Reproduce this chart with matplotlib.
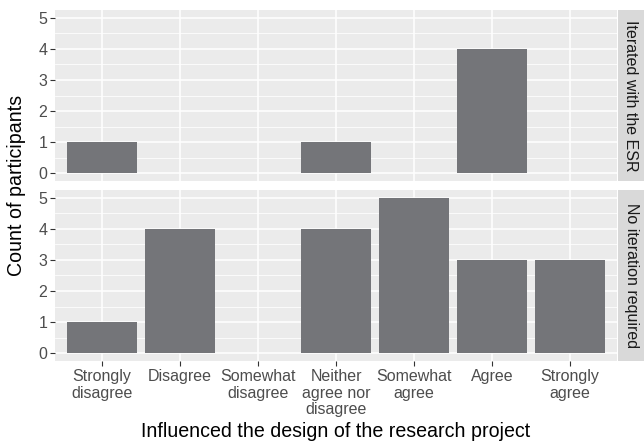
import matplotlib
matplotlib.use("Agg")
import matplotlib.pyplot as plt
import numpy as np

categories = ["Strongly\ndisagree", "Disagree", "Somewhat\ndisagree",
              "Neither\nagree nor\ndisagree", "Somewhat\nagree", "Agree",
              "Strongly\nagree"]
facets = ["Iterated with the ESR", "No iteration required"]
iterated = [1, 0, 0, 1, 0, 4, 0]
no_iteration = [1, 4, 0, 4, 5, 3, 3]
y_ticks = [0, 1, 2, 3, 4, 5]
x_title = "Influenced the design of the research project"
y_title = "Count of participants"

plt.rcParams['font.family'] = ['Liberation Sans', 'DejaVu Sans']

W, H = 644, 441
fig = plt.figure(figsize=(W / 100, H / 100), dpi=100)

bar_color = "#747579"
panel_bg = "#EBEBEB"
strip_bg = "#D9D9D9"
tick_col = "#4D4D4D"
fs_tick = 11.5
fs_title = 14.1

def fx(px):
    return px / W

def fy(py):
    return 1 - py / H

left, right = 55, 617
panels = [(10, 181), (190, 361)]
data = [iterated, no_iteration]
x = np.arange(1, len(categories) + 1)

for i, ((top, bot), vals, name) in enumerate(zip(panels, data, facets)):
    ax = fig.add_axes([fx(left), fy(bot), fx(right) - fx(left), fy(top) - fy(bot)])
    ax.set_facecolor(panel_bg)
    ax.set_xlim(0.4, len(categories) + 0.6)
    ax.set_ylim(-0.25, 5.25)
    ax.set_yticks(y_ticks)
    ax.set_yticks(np.arange(0.5, 5.0, 1.0), minor=True)
    ax.set_xticks(x)
    ax.grid(True, which='major', color='white', linewidth=1.1)
    ax.grid(True, which='minor', axis='y', color='white', linewidth=0.55)
    ax.set_axisbelow(True)
    for s in ax.spines.values():
        s.set_visible(False)
    ax.bar(x, vals, width=0.9, color=bar_color, zorder=3)
    ax.tick_params(axis='both', which='major', length=3.5, width=0.8,
                   color='#333333', labelcolor=tick_col, labelsize=fs_tick, pad=2)
    ax.tick_params(axis='y', which='minor', length=0)
    if i == 0:
        ax.set_xticklabels([])
        ax.tick_params(axis='x', length=0)
    else:
        ax.set_xticklabels(categories, linespacing=1.1)
        ax.tick_params(axis='x', pad=2.5)
    sax = fig.add_axes([fx(right + 1), fy(bot), fx(W) - fx(right + 1), fy(top) - fy(bot)])
    sax.set_facecolor(strip_bg)
    sax.set_xticks([]); sax.set_yticks([])
    for s in sax.spines.values():
        s.set_visible(False)
    sax.text(0.5, 0.5, name, rotation=-90, ha='center', va='center',
             color='#1A1A1A', fontsize=fs_tick, transform=sax.transAxes)

fig.text(fx((left + right) / 2), fy(437), x_title, ha='center', va='baseline',
         fontsize=fs_title, color='black')
fig.text(fx(17), fy((10 + 361) / 2), y_title, ha='center', va='center',
         rotation=90, fontsize=fs_title, color='black')

fig.savefig("out.png", dpi=100)
